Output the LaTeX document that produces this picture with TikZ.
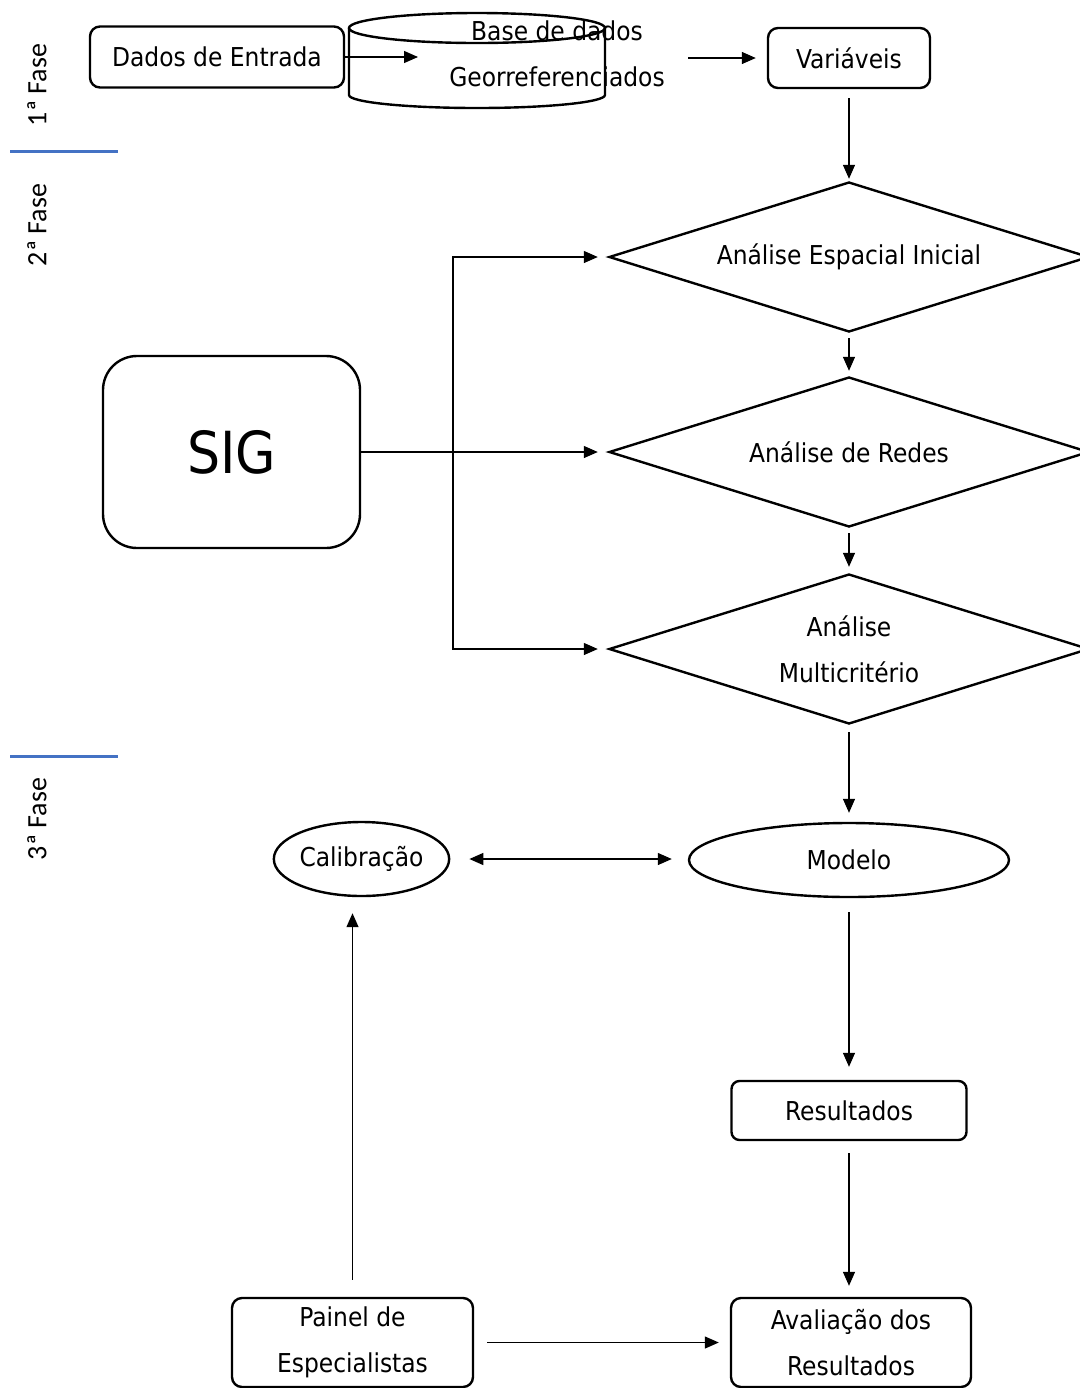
\documentclass[tikz,border=0pt]{standalone}
\usepackage{fontspec}
\setmainfont{DejaVu Sans Condensed}
\newfontfamily\fasefont{Carlito}
\usetikzlibrary{shapes.geometric,arrows.meta}
\definecolor{azulfase}{RGB}{68,114,196}

\begin{document}
\begin{tikzpicture}[x=0.5pt,y=-0.5pt,>={Triangle[length=7pt,width=6pt]},
 every node/.style={font=\fontsize{13}{23}\selectfont},
 caixa/.style={draw,line width=1.2pt,rounded corners=5pt,inner sep=0pt,align=center},
 losango/.style={draw,diamond,aspect=3.2,line width=1.2pt,inner sep=0pt,align=center,
   minimum width=240pt,minimum height=75pt},
 elipse/.style={draw,ellipse,line width=1.2pt,inner sep=0pt,minimum height=37pt},
 fase/.style={font=\fasefont\fontsize{14}{16}\selectfont,rotate=90},
 seta/.style={->,line width=0.65pt}]
 \useasboundingbox (0,0) rectangle (1080,1388);

 % fases
 \node[fase] (f1) at (37,85) {1ª Fase};
 \node[fase] (f2) at (37,225) {2ª Fase};
 \node[fase] (f3) at (37,819) {3ª Fase};
 \draw[azulfase,line width=1.5pt] (10,151) -- (118,151);
 \draw[azulfase,line width=1.5pt] (10,756) -- (118,756);

 % 1a fase
 \node[caixa,minimum width=127pt,minimum height=30.5pt] (dados) at (217,57) {Dados de Entrada};
 \node[minimum width=128pt,minimum height=47.5pt,inner sep=0pt] (bd) at (477,60) {};
 \draw[line width=1.2pt] (477,28) ellipse [x radius=128,y radius=15];
 \draw[line width=1.2pt] (349,28) -- (349,95) arc [start angle=180,end angle=0,x radius=128,y radius=13] -- (605,28);
 \node[align=center] (bdtexto) at (557,54) {Base de dados\\Georreferenciados};
 \node[caixa,minimum width=81pt,minimum height=30pt] (var) at (849,58) {Variáveis};
 \coordinate (bdin) at (418,57);
 \coordinate (bdout) at (688,58);

 % 2a fase
 \node[losango] (d1) at (849,257) {Análise Espacial Inicial};
 \node[losango] (d2) at (849,452) {Análise de Redes};
 \node[losango] (d3) at (849,649) {Análise\\Multicritério};
 \node[caixa,rounded corners=17pt,minimum width=128.5pt,minimum height=96pt,
   font=\fontsize{29}{32}\selectfont] (sig) at (231.5,452) {SIG};
 \coordinate (jn) at (453,452);

 % 3a fase
 \node[elipse,minimum width=87.5pt] (calib) at (361.5,859) {Calibração};
 \node[elipse,minimum width=160pt] (modelo) at (849,860) {Modelo};
 \node[caixa,rounded corners=4pt,minimum width=117.5pt,minimum height=29.5pt] (res) at (849,1110.5) {Resultados};
 \node[caixa,minimum width=120pt,minimum height=44.5pt] (aval) at (851,1342.5) {Avaliação dos\\Resultados};
 \node[caixa,minimum width=120.5pt,minimum height=44.5pt] (painel) at (352.5,1342.5) {Painel de\\Especialistas};

 \path[seta]
 (dados.east) edge (bdin)
 (bdout) edge [shorten >=5.5pt] (var.west)
 (var.south) edge [shorten <=4.5pt,shorten >=1pt] (d1.north)
 (d1.south) edge [shorten <=2.5pt,shorten >=2.5pt] (d2.north)
 (d2.south) edge [shorten <=2.5pt,shorten >=3pt] (d3.north)
 (sig.east) edge [shorten >=5pt] (d2.west)
 (d3.south) edge [shorten <=3.5pt,shorten >=4.5pt] (modelo.north)
 (modelo.south) edge [shorten <=7pt,shorten >=6.5pt] (res.north)
 (res.south) edge [shorten <=6pt,shorten >=5.5pt] (res.south |- aval.north)
 (painel.east) edge [shorten <=6.5pt,shorten >=5.5pt] (aval.west)
 (painel.north) edge [shorten <=8.5pt,shorten >=8pt] (painel.north |- calib.south)
 (calib.east) edge [<->,shorten <=9.5pt,shorten >=8pt] (calib.east -| modelo.west);
 \draw[seta,shorten >=5pt] (jn) |- (d1.west);
 \draw[seta,shorten >=5pt] (jn) |- (d3.west);
\end{tikzpicture}
\end{document}
